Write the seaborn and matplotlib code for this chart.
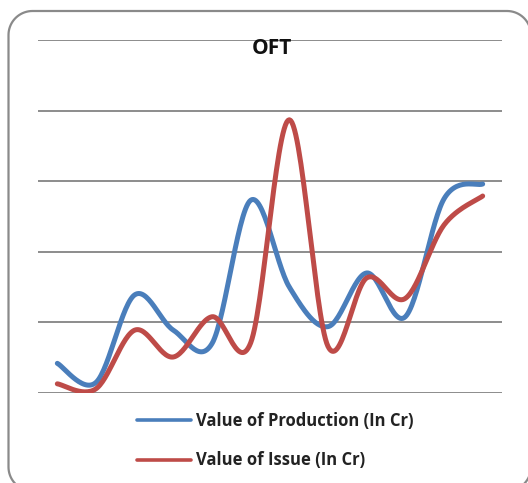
import numpy as np
import pandas as pd
import matplotlib
matplotlib.use("Agg")
import matplotlib.pyplot as plt
import seaborn as sns
from matplotlib.lines import Line2D
from matplotlib.transforms import IdentityTransform

# ==============================================================
#  DATA (gridline step = 100)
# ==============================================================

periods = list(range(1, 13))
production = [42, 15, 139, 89, 70, 273, 150, 94, 170, 108, 275, 296]
issue = [13, 6, 89, 51, 108, 71, 387, 66, 163, 134, 238, 279]

series_names = ["Value of Production (In Cr)", "Value of Issue (In Cr)"]
colors = ["#4A7EBB", "#BE4B48"]


def smooth(xs, ys, steps=30):
    # Catmull-Rom curve through the points (Excel "smoothed line")
    x = np.asarray(xs, float)
    y = np.asarray(ys, float)
    px = np.concatenate([[x[0]], x, [x[-1]]])
    py = np.concatenate([[y[0]], y, [y[-1]]])
    out_x, out_y = [], []
    t = np.linspace(0, 1, steps, endpoint=False)
    for i in range(1, len(px) - 2):
        for p, out in ((px, out_x), (py, out_y)):
            p0, p1, p2, p3 = p[i - 1], p[i], p[i + 1], p[i + 2]
            out.extend(0.5 * ((2 * p1) + (-p0 + p2) * t
                              + (2 * p0 - 5 * p1 + 4 * p2 - p3) * t ** 2
                              + (-p0 + 3 * p1 - 3 * p2 + p3) * t ** 3))
    out_x.append(x[-1])
    out_y.append(y[-1])
    return out_x, out_y


def rounded_frame(x0, y0, x1, y1, r, n=20):
    # outline of a rounded rectangle as a polyline (pixel coords)
    pts = []
    corners = [(x1 - r, y1 - r, 0), (x0 + r, y1 - r, 90),
               (x0 + r, y0 + r, 180), (x1 - r, y0 + r, 270)]
    for cx, cy, a0 in corners:
        a = np.radians(np.linspace(a0, a0 + 90, n))
        pts.extend(zip(cx + r * np.cos(a), cy + r * np.sin(a)))
    pts.append(pts[0])
    xs, ys = zip(*pts)
    return xs, ys


frames = []
for name, vals in zip(series_names, [production, issue]):
    sx, sy = smooth(periods, vals)
    frames.append(pd.DataFrame({"x": sx, "y": sy, "Series": name}))
df = pd.concat(frames, ignore_index=True)

# ==============================================================
#  PLOT
# ==============================================================

sns.set_style("white")
plt.rcParams["font.family"] = ["Open Sans", "DejaVu Sans"]

fig = plt.figure(figsize=(5.28, 4.83), dpi=100)
fx, fy = rounded_frame(8.5, -8, 531, 472, 24)
fig.add_artist(Line2D(fx, fy, transform=IdentityTransform(),
                      color="#8a8a8a", linewidth=1.6, zorder=-1))

ax = fig.add_axes([38 / 528, 1 - 393 / 483, 464 / 528, 353 / 483])
ax.patch.set_alpha(0)

sns.lineplot(data=df, x="x", y="y", hue="Series", palette=colors,
             sort=False, estimator=None, linewidth=3.6, ax=ax, zorder=3)

ax.set_xlim(0.5, 12.5)
ax.set_ylim(0, 500)
ax.set_yticks(range(0, 501, 100))
ax.set_xticks([])
ax.yaxis.grid(True, color="#8c8c8c", linewidth=1.4)
ax.tick_params(left=False, labelleft=False)
for s in ax.spines.values():
    s.set_visible(False)
ax.set_xlabel("")
ax.set_ylabel("")

fig.text(272 / 528, 1 - 49 / 483, "OFT", ha="center", va="center",
         fontsize=15, fontweight="bold", color="#111111")

handles, labels = ax.get_legend_handles_labels()
for h in handles:
    h.set_linewidth(2.6)
ax.legend(handles, labels, loc="upper left",
          bbox_to_anchor=(137 / 528, 1 - 412 / 483),
          bbox_transform=fig.transFigure, frameon=False,
          handlelength=3.25, handletextpad=0.3, labelspacing=1.28,
          borderpad=0, borderaxespad=0,
          prop={"size": 12, "weight": "bold"}, labelcolor="#222222")

fig.savefig("out.png", dpi=100)
